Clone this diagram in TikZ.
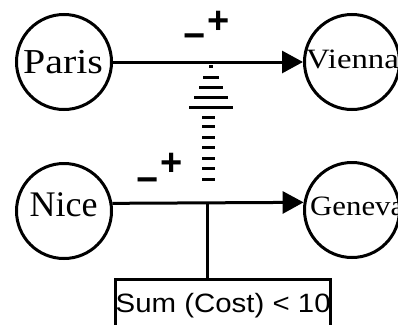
\documentclass[tikz,border=0pt]{standalone}
\usepackage{fontspec}
\setmainfont{Liberation Serif}
\newfontfamily\condfont{Liberation Sans}
\usetikzlibrary{arrows.meta}

\tikzset{
  city/.style={circle, draw, line width=3pt, minimum size=95pt, inner sep=0pt},
  cityname/.style={inner sep=0pt},
  link/.style={line width=3pt, -{Triangle[length=21pt,width=22pt]}},
  stem/.style={line width=3pt},
  sign/.style={inner sep=0pt, anchor=base, font=\condfont\bfseries\fontsize{38}{38}\selectfont},
  hatch/.style={line width=2.8pt},
  condition/.style={draw, rectangle, line width=3pt, inner sep=0pt},
  conditiontext/.style={inner sep=0pt, anchor=base west, font=\condfont\fontsize{26.5}{26.5}\selectfont},
}

\begin{document}
\begin{tikzpicture}[x=1pt, y=-1pt]
  \clip (0,0) rectangle (398,324);
  \fill[white] (0,0) rectangle (398,324);

  % cities
  \node[city] (Paris)  at (64,62)   {};
  \node[city] (Vienna) at (352,62)  {};
  \node[city] (Nice)   at (64,211)  {};
  \node[city] (Geneva) at (352,210) {};

  \node[cityname, anchor=base, font=\fontsize{35}{35}\selectfont] (ParisName) at (63,73) {\scalebox{1.14}[1]{Paris}};
  \node[cityname, anchor=base, font=\fontsize{36}{36}\selectfont] (NiceName) at (63.5,216) {Nice};
  \node[cityname, anchor=base west, font=\fontsize{28}{28}\selectfont] (ViennaName) at (306,68) {\scalebox{1.17}[1]{Vienna}};
  \node[cityname, anchor=base west, font=\fontsize{28}{28}\selectfont] (GenevaName) at (310,215) {\scalebox{1.1}[1]{Geneva}};

  % connections
  \draw[link] (Paris) -- (Vienna);
  \draw[link] (Nice.9.5) -- (Geneva.171.5);

  % signs
  \node[sign] (UpperMinus) at (195,48) {−};
  \node[sign] (UpperPlus)  at (218.5,33) {+};
  \node[sign] (LowerMinus) at (147.5,192) {−};
  \node[sign] (LowerPlus)  at (172,175) {+};

  % hatched arrow between the two connections
  \foreach \y/\w in {66.7/4, 77.3/16, 87.3/24, 97.7/34, 107.7/44}
    \draw[hatch] ({211-\w/2},\y) -- ({211+\w/2},\y);
  \foreach \y in {117.3,126.7,137.3,147.7,158.3,168.3,179.3}
    \draw[hatch] (202,\y) -- (215,\y);

  % condition box attached to the lower connection
  \node[condition, minimum width=215pt, minimum height=60pt, anchor=north west] (Limit) at (113.5,277.5) {};
  \node[conditiontext] (LimitText) at (115.5,312) {\scalebox{1.11}[1]{Sum (Cost) < 10}};
  \coordinate (tap) at (207,203);
  \draw[stem] (tap) -- (tap |- Limit.north);
\end{tikzpicture}
\end{document}
